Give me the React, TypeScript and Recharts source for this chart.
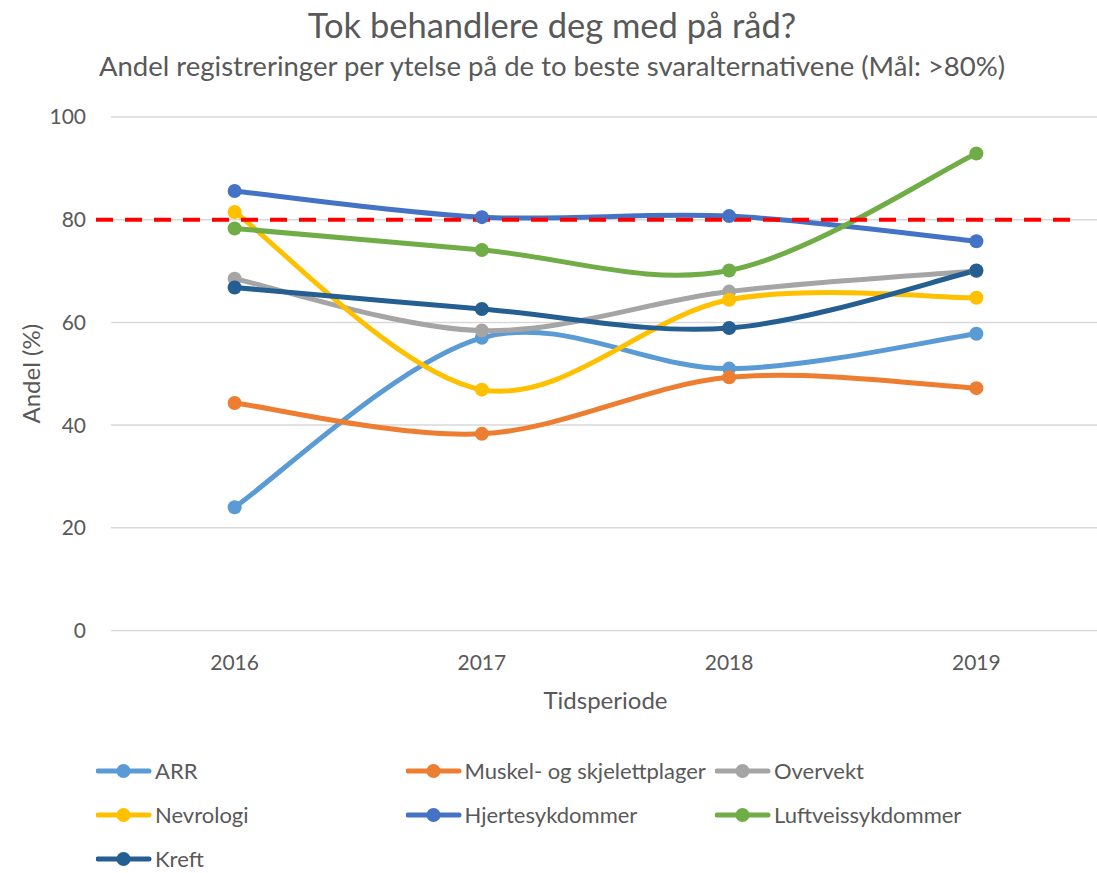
import React from "react";
import {
    LineChart,
    Line,
    XAxis,
    YAxis,
    CartesianGrid,
    ReferenceLine,
    Legend,
} from "recharts";

const years = ["2016", "2017", "2018", "2019"];

const arr = [24, 57, 51, 57.8];
const muskel = [44.3, 38.3, 49.3, 47.2];
const overvekt = [68.5, 58.4, 66, 70];
const nevrologi = [81.5, 46.9, 64.4, 64.8];
const hjerte = [85.6, 80.5, 80.7, 75.8];
const luftvei = [78.3, 74.1, 70.1, 92.9];
const kreft = [66.8, 62.6, 58.9, 70.1];

const yTicks = [0, 20, 40, 60, 80, 100];
const target = 80;

const series = [
    { key: "arr", name: "ARR", color: "#5B9BD5", values: arr },
    { key: "muskel", name: "Muskel- og skjelettplager", color: "#ED7D31", values: muskel },
    { key: "overvekt", name: "Overvekt", color: "#A5A5A5", values: overvekt },
    { key: "nevrologi", name: "Nevrologi", color: "#FFC000", values: nevrologi },
    { key: "hjerte", name: "Hjertesykdommer", color: "#4472C4", values: hjerte },
    { key: "luftvei", name: "Luftveissykdommer", color: "#70AD47", values: luftvei },
    { key: "kreft", name: "Kreft", color: "#255E91", values: kreft },
];

const FONT = "Lato, 'Open Sans', sans-serif";
const TEXT = "#595959";
const GRID = "#D9D9D9";

// Excel-style smoothed line (Catmull-Rom through the points)
const excelSmooth = (context: any) => {
    let xs: number[] = [];
    let ys: number[] = [];
    return {
        areaStart() {},
        areaEnd() {},
        lineStart() {
            xs = [];
            ys = [];
        },
        point(x: number, y: number) {
            xs.push(+x);
            ys.push(+y);
        },
        lineEnd() {
            const n = xs.length;
            if (!n) return;
            context.moveTo(xs[0], ys[0]);
            for (let i = 0; i < n - 1; i++) {
                const a = Math.max(i - 1, 0);
                const d = Math.min(i + 2, n - 1);
                const c1x = xs[i] + (xs[i + 1] - xs[a]) / 6;
                const c1y = ys[i] + (ys[i + 1] - ys[a]) / 6;
                const c2x = xs[i + 1] - (xs[d] - xs[i]) / 6;
                const c2y = ys[i + 1] - (ys[d] - ys[i]) / 6;
                context.bezierCurveTo(c1x, c1y, c2x, c2y, xs[i + 1], ys[i + 1]);
            }
        },
    };
};

// legend keeps the series order (Excel order), not the sorted payload
const LegendContent = () => (
    <div style={{ position: "relative", width: 1097, height: 126, fontFamily: FONT }}>
        {series.map((s, i) => {
            const col = i % 3;
            const row = Math.floor(i / 3);
            return (
                <div
                    key={s.key}
                    style={{
                        position: "absolute",
                        left: 96 + col * 309.5,
                        top: 26 + row * 44 - 10,
                        height: 20,
                        display: "flex",
                        alignItems: "center",
                        whiteSpace: "nowrap",
                    }}
                >
                    <svg width={59} height={20}>
                        <line x1={2} y1={10} x2={53} y2={10} stroke={s.color} strokeWidth={5} strokeLinecap="round" />
                        <circle cx={27.5} cy={10} r={7} fill={s.color} />
                    </svg>
                    <span style={{ fontSize: 22, color: TEXT, lineHeight: "20px" }}>{s.name}</span>
                </div>
            );
        })}
    </div>
);

const App = () => {
    const data = years.map((year, i) => {
        const row: any = { year };
        series.forEach((s) => {
            row[s.key] = s.values[i];
        });
        return row;
    });

    return (
        <div
            style={{
                position: "absolute",
                left: 0,
                top: 0,
                width: 1097,
                height: 873,
                overflow: "hidden",
                background: "#ffffff",
                fontFamily: FONT,
            }}
        >
            <LineChart
                width={1100}
                height={873}
                data={data}
                margin={{ top: 117, right: 0, bottom: 0, left: 0 }}
            >
                <CartesianGrid vertical={false} stroke={GRID} strokeWidth={1.5} />

                <XAxis
                    dataKey="year"
                    scale="band"
                    height={242.5}
                    axisLine={false}
                    tickLine={false}
                    tickSize={0}
                    tickMargin={25}
                    tick={{ fill: TEXT, fontSize: 21, fontFamily: FONT }}
                    label={{
                        content: (props: any) => {
                            const vb = props.viewBox || {};
                            return (
                                <text
                                    x={vb.x + vb.width / 2}
                                    y={vb.y + 78}
                                    textAnchor="middle"
                                    fill={TEXT}
                                    fontSize={24}
                                    fontFamily={FONT}
                                >
                                    Tidsperiode
                                </text>
                            );
                        },
                    }}
                />

                <YAxis
                    domain={[0, 100]}
                    ticks={yTicks}
                    width={111}
                    axisLine={false}
                    tickLine={false}
                    tickSize={0}
                    tickMargin={25}
                    tick={{ fill: TEXT, fontSize: 21, fontFamily: FONT }}
                    label={{
                        content: (props: any) => {
                            const vb = props.viewBox || {};
                            const cy = vb.y + vb.height / 2;
                            return (
                                <text
                                    x={30}
                                    y={cy}
                                    transform={`rotate(-90 30 ${cy})`}
                                    textAnchor="middle"
                                    dominantBaseline="central"
                                    fill={TEXT}
                                    fontSize={24}
                                    fontFamily={FONT}
                                >
                                    Andel (%)
                                </text>
                            );
                        },
                    }}
                />

                {series.map((s) => (
                    <Line
                        key={s.key}
                        dataKey={s.key}
                        name={s.name}
                        type={excelSmooth as any}
                        stroke={s.color}
                        strokeWidth={5}
                        dot={{ r: 7, fill: s.color, stroke: s.color, strokeWidth: 0 }}
                        activeDot={false}
                        isAnimationActive={false}
                    />
                ))}

                <ReferenceLine
                    y={target}
                    stroke="#FF0000"
                    strokeWidth={4}
                    strokeDasharray="17 12"
                    shape={(props: any) => (
                        <line
                            x1={props.x1 - 15}
                            y1={props.y1}
                            x2={props.x2 - 20}
                            y2={props.y2}
                            stroke="#FF0000"
                            strokeWidth={4}
                            strokeDasharray="17 12"
                        />
                    )}
                />

                <Legend
                    layout="horizontal"
                    verticalAlign="middle"
                    align="center"
                    wrapperStyle={{ position: "absolute", left: 0, top: 745, width: 1097, height: 126 }}
                    content={<LegendContent />}
                />
            </LineChart>

            <svg width={1097} height={90} style={{ position: "absolute", left: 0, top: 0 }}>
                <text x={552} y={38} textAnchor="middle" fill={TEXT} fontSize={34.5} fontFamily={FONT}>
                    Tok behandlere deg med på råd?
                </text>
                <text x={552} y={76} textAnchor="middle" fill={TEXT} fontSize={27.5} fontFamily={FONT}>
                    Andel registreringer per ytelse på de to beste svaralternativene (Mål: &gt;80%)
                </text>
            </svg>
        </div>
    );
};

export default App;
